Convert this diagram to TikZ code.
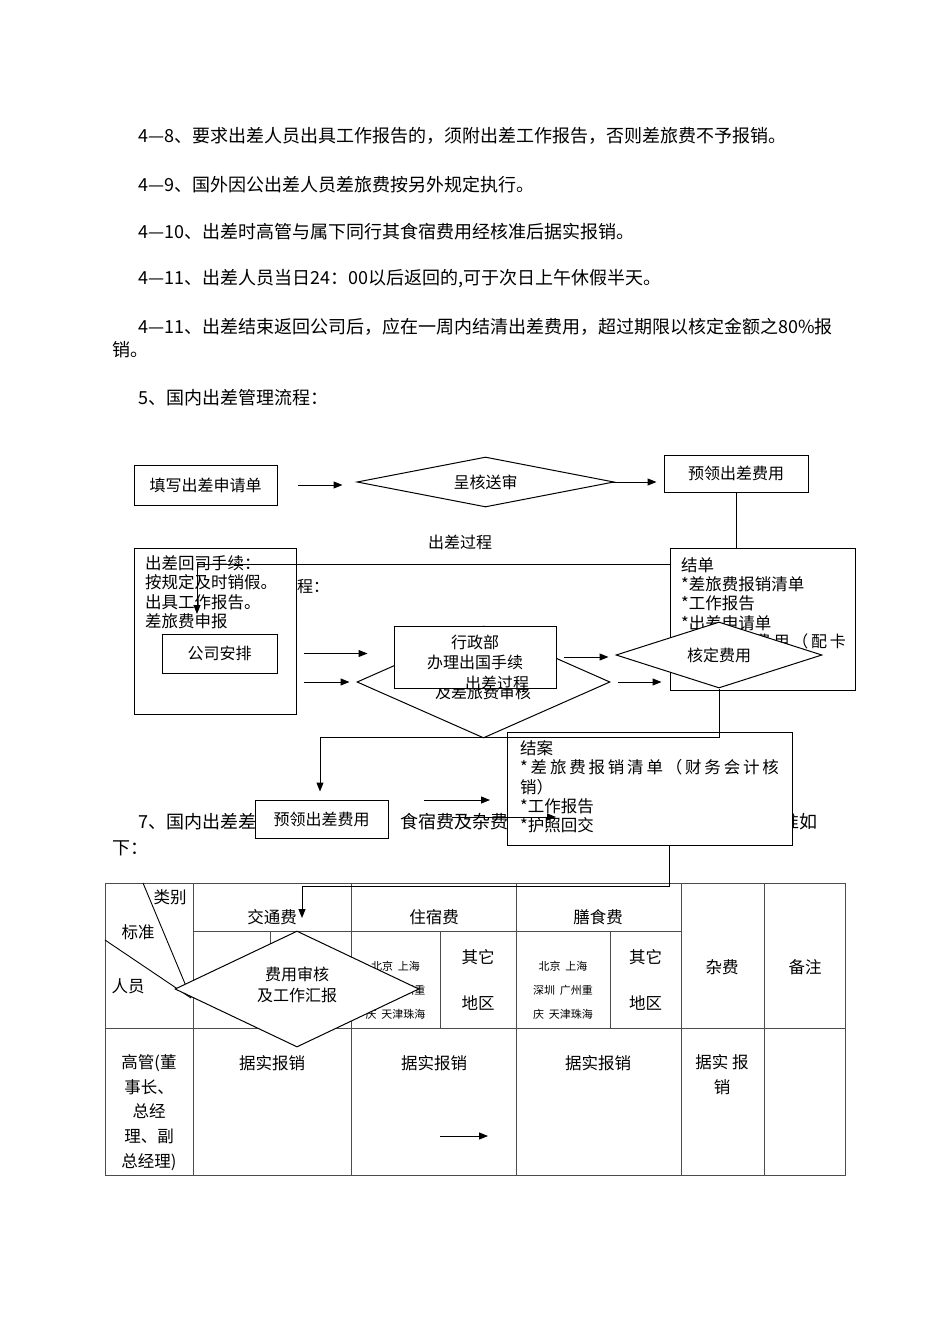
\documentclass[tikz,border=0pt]{standalone}
\usepackage{fontspec}
\setmainfont{Noto Sans CJK SC}
\newfontfamily\spreadcjk{Noto Sans CJK SC}[LetterSpace=17]
\usetikzlibrary{shapes.geometric,arrows.meta}

\begin{document}
\begin{tikzpicture}[x=1pt, y=-1pt,
  para/.style={anchor=west, inner sep=0pt, font=\fontsize{18}{21}\selectfont},
  box/.style={draw, fill=white, line width=1pt, inner sep=0pt, font=\fontsize{16}{19.5}\selectfont},
  dia/.style={diamond, draw, fill=white, line width=1pt, inner sep=0pt, align=center, font=\fontsize{16}{20}\selectfont},
  lines/.style={anchor=north west, inner sep=0pt, align=left, font=\fontsize{16.5}{19.2}\selectfont},
  lbl/.style={inner sep=0pt, font=\fontsize{16}{20.5}\selectfont},
  arr/.style={-{Triangle[length=9pt,width=7pt]}, line width=1pt},
  rule/.style={line width=0.8pt, black!70},
  cell/.style={inner sep=0pt, align=center, font=\fontsize{16.5}{24.7}\selectfont},
  tiny/.style={inner sep=0pt, align=center, font=\fontsize{11}{24}\selectfont}]

  \useasboundingbox (0,0) rectangle (950,1344);

  % Text above the chart
  \node[para] (p48) at (138,136) {4—8、要求出差人员出具工作报告的，须附出差工作报告，否则差旅费不予报销。};
  \node[para] (p49) at (138,185) {4—9、国外因公出差人员差旅费按另外规定执行。};
  \node[para] (p410) at (138,232) {4—10、出差时高管与属下同行其食宿费用经核准后据实报销。};
  \node[para] (p411) at (138,279) {4—11、出差人员当日24：00以后返回的,可于次日上午休假半天。};
  \node[para] (p411b) at (138,327) {4—11、出差结束返回公司后，应在一周内结清出差费用，超过期限以核定金额之80\%报};
  \node[para] (p411c) at (112,350) {销。};
  \node[para] (p5) at (138,398) {5、国内出差管理流程：};

  % First row of the chart
  \node[box, minimum width=143, minimum height=40] (apply) at (205.5,485) {填写出差申请单};
  \node[dia, aspect=5.14, minimum width=257, minimum height=50] (submit) at (485.5,482) {呈核送审};
  \node[box, minimum width=144, minimum height=37] (advance) at (736,473.5) {预领出差费用};
  \draw[arr, shorten <=20, shorten >=14] (apply.east) -- (apply.east -| submit.west);
  \draw[arr, shorten <=-3, shorten >=7] (submit.east) -- (submit.east -| advance.west);

  \node[lbl] (stagea) at (460,542) {出差过程};

  % Return box on the left
  \node[box, minimum width=162, minimum height=166] (back) at (215,631) {};
  \node[lines] (backtxt) at (145,555.5) {出差回司手续：\\按规定及时销假。\\出具工作报告。\\差旅费申报};
  \node[lbl, anchor=west] (tail) at (297,587) {程：};
  \node[box, minimum width=115, minimum height=39] (arrange) at (219.5,653.5) {公司安排};

  \coordinate (bend1) at (197,564);
  \coordinate (drop1) at (197,614);
  \draw[arr] (advance.south) |- (bend1) -- (drop1);

  % Middle: diamond behind the admin box
  \node[dia, aspect=2.26, minimum width=253, minimum height=112] (audit) at (483.5,682) {};
  \node[lbl] (audittxt) at (483,692) {及差旅费审核};
  \node[box, minimum width=162, minimum height=62] (admin) at (475,657) {};
  \node[lbl, align=center] (admintxt) at (475,652.5) {行政部\\办理出国手续};
  \node[lbl] (stageb) at (497,683) {出差过程};

  % Settlement box on the right
  \node[box, minimum width=185, minimum height=142] (settle) at (762.5,619) {};
  \node[lines] (settletxt) at (681,557.5) {结单\\*差旅费报销清单\\*工作报告\\*出差申请单};
  \node[lbl, anchor=east, font=\fontsize{16}{20}\spreadcjk] (settlecut) at (846,641) {费用（配卡};
  \node[dia, aspect=3.1, minimum width=206, minimum height=66] (fix) at (719,655) {核定费用};

  \draw[arr, shorten <=26, shorten >=26] (arrange.east) -- (arrange.east -| admin.west);
  \draw[arr, shorten <=26, shorten >=7] (arrange.east |- audit.west) -- (audit.west);
  \draw[arr, shorten <=7, shorten >=7] (admin.east) -- (admin.east -| fix.west);
  \draw[arr, shorten <=7, shorten >=8] (audit.east) -- (audit.east -| settle.west);

  % Closing row
  \node[para] (p7a) at (138,822) {7、国内出差差};
  \node[para] (p7b) at (400,822) {食宿费及杂费};
  \node[para] (p7c) at (781,822) {准如};
  \node[para] (p7d) at (112,848) {下：};

  \node[box, minimum width=133, minimum height=38] (adv2) at (321.5,819) {预领出差费用};
  \node[box, minimum width=285, minimum height=113] (close) at (649.5,788.5) {};
  \node[lines] (closetxt) at (520,740.5) {结案\\{\spreadcjk *差旅费报销清单（财务会计核}\\销）\\*工作报告\\*护照回交};

  \coordinate (bend2) at (320,737);
  \draw[arr, shorten >=8] (fix.south) |- (bend2) -- (bend2 |- adv2.north);

  \coordinate (m1) at (424,800);
  \coordinate (m2) at (490,800);
  \draw[arr] (m1) -- (m2);
  \coordinate (m3) at (452,817);
  \coordinate (m4) at (556,817);
  \draw[arr] (m3) -- (m4);

  % Table
  \draw[rule] (105,883) rectangle (845,1175);
  \draw[rule] (193,931) -- (681,931);
  \draw[rule] (105,1028) -- (845,1028);
  \foreach \x in {193,351,516,681,764} \draw[rule] (\x,883) -- (\x,1175);
  \foreach \x in {270,440,610} \draw[rule] (\x,931) -- (\x,1028);
  \draw[line width=0.9pt] (143,883) -- (191,998);
  \draw[line width=0.9pt] (105,940) -- (191,998);

  \node[cell] (kind) at (170,897) {类别};
  \node[cell] (std) at (138,932) {标准};
  \node[cell] (who) at (128,986) {人员};
  \node[cell] (traffic) at (272,917) {交通费};
  \node[cell] (hotel) at (434,917) {住宿费};
  \node[cell] (meal) at (598,917) {膳食费};
  \node[cell] (misc) at (722,967) {杂费};
  \node[cell] (note) at (805,967) {备注};
  \node[tiny] (hotelcity) at (395.5,990) {北京\ \ 上海\\深圳\ \ 广州重\\庆\ \ 天津珠海};
  \node[cell] (hotelother) at (478,980) {其它\\[21pt]地区};
  \node[tiny] (mealcity) at (563,990) {北京\ \ 上海\\深圳\ \ 广州重\\庆\ \ 天津珠海};
  \node[cell] (mealother) at (645.5,980) {其它\\[21pt]地区};

  \node[cell] (boss) at (149,1112.5) {高管(董\\事长、\\总经\\理、副\\总经理)};
  \node[cell] (real1) at (272,1063) {据实报销};
  \node[cell] (real2) at (434,1063) {据实报销};
  \node[cell] (real3) at (598,1063) {据实报销};
  \node[cell] (real4) at (722,1075) {据实\ 报\\销};

  \coordinate (q1) at (440,1136);
  \coordinate (q2) at (488,1136);
  \draw[arr] (q1) -- (q2);

  \coordinate (bend3) at (302,886);
  \coordinate (drop3) at (302,918);
  \draw[arr] ([xshift=19.5]close.south) |- (bend3) -- (drop3);

  \node[dia, aspect=2.1, minimum width=244, minimum height=116] (review) at (297,989) {};
  \node[lbl, align=center] (reviewtxt) at (297,985) {费用审核\\及工作汇报};
\end{tikzpicture}
\end{document}
